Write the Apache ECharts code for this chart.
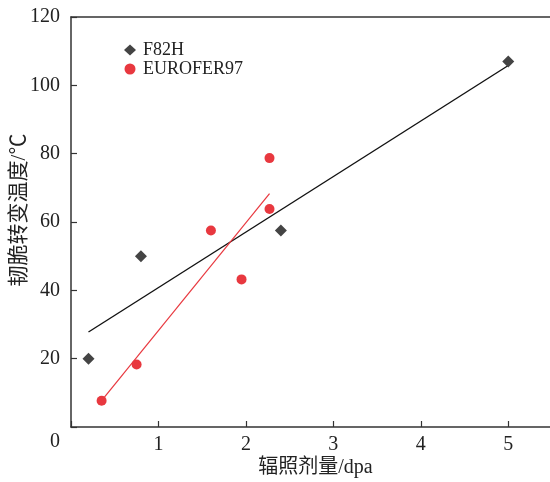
<!DOCTYPE html>
<html>
<head>
<meta charset="utf-8">
<script src="https://cdn.jsdelivr.net/npm/echarts@6/dist/echarts.min.js"></script>
<style>
  html, body { margin: 0; padding: 0; background: #fff; }
  #chart { width: 550px; height: 482px; }
</style>
</head>
<body>
<div id="chart"></div>
<script>
// Irradiation dose (dpa) vs. ductile-brittle transition temperature (°C)
const seriesNames = ['F82H', 'EUROFER97'];

const f82hDose = [0.2, 0.8, 2.4, 5.0];
const f82hDbtt = [20, 50, 57.5, 107];

const euroDose = [0.35, 0.75, 1.6, 1.95, 2.27, 2.27];
const euroDbtt = [7.7, 18.3, 57.5, 43.2, 78.7, 63.8];

// Linear fit lines (end points)
const f82hFitDose = [0.2, 5.0];
const f82hFitDbtt = [27.8, 105.8];
const euroFitDose = [0.35, 2.27];
const euroFitDbtt = [7.7, 68.3];

const xTicks = [1, 2, 3, 4, 5];
const yTicks = [0, 20, 40, 60, 80, 100, 120];

const xName = '辐照剂量/dpa';
const yName = '韧脆转变温度/℃';

const zip = (a, b) => a.map((v, i) => [v, b[i]]);

const FONT = "'Liberation Serif', 'Noto Sans CJK SC', serif";
const AXIS_COLOR = '#333';
const RED = '#e8383f';
const GRAY = '#444';

const chart = echarts.init(document.getElementById('chart'));
chart.setOption({
  animation: false,
  backgroundColor: '#fff',
  textStyle: { fontFamily: FONT },
  grid: { left: 71, right: -2, top: 17, bottom: 55, containLabel: false, outerBoundsMode: 'none' },
  legend: {
    orient: 'vertical',
    left: 124,
    top: 41,
    padding: 0,
    itemGap: 1,
    itemWidth: 12,
    itemHeight: 11,
    data: [
      { name: seriesNames[0], icon: 'diamond' },
      { name: seriesNames[1], icon: 'circle' }
    ],
    textStyle: { fontFamily: FONT, fontSize: 18, color: '#222', padding: [0, 0, 0, 2] }
  },
  xAxis: [{
    type: 'value',
    min: 0,
    max: 5.5,
    interval: 1,
    name: xName,
    nameLocation: 'middle',
    nameGap: 31,
    nameMoveOverlap: false,
    nameTextStyle: { fontFamily: FONT, fontSize: 20, color: '#222', padding: [0, 0, 0, 8] },
    axisLine: { show: true, lineStyle: { color: AXIS_COLOR, width: 1.5 } },
    axisTick: { show: true, inside: true, length: 6, lineStyle: { color: AXIS_COLOR, width: 1.2 } },
    axisLabel: {
      fontFamily: FONT, fontSize: 20, color: '#222', margin: 8,
      formatter: v => (xTicks.indexOf(v) >= 0 ? String(v) : '')
    },
    splitLine: { show: false }
  }, {
    // top frame line
    type: 'value',
    position: 'top',
    min: 0,
    max: 5.5,
    interval: 1,
    axisLine: { show: true, lineStyle: { color: AXIS_COLOR, width: 1.5 } },
    axisTick: { show: false },
    axisLabel: { show: false },
    splitLine: { show: false }
  }],
  yAxis: {
    type: 'value',
    min: 0,
    max: 120,
    interval: 20,
    name: yName,
    nameLocation: 'middle',
    nameGap: 41,
    nameRotate: 90,
    nameMoveOverlap: false,
    nameTextStyle: { fontFamily: FONT, fontSize: 21, color: '#222', padding: [0, 0, 0, 24] },
    axisLine: { show: true, lineStyle: { color: AXIS_COLOR, width: 1.5 } },
    axisTick: { show: true, inside: true, length: 6, lineStyle: { color: AXIS_COLOR, width: 1.2 } },
    axisLabel: {
      fontFamily: FONT, fontSize: 20, color: '#222', margin: 11,
      formatter: v => {
        if (yTicks.indexOf(v) < 0) return '';
        return v === 0 ? '{z|0}' : String(v);
      },
      rich: { z: { fontFamily: FONT, fontSize: 20, color: '#222', padding: [30, 0, 0, 0] } }
    },
    splitLine: { show: false }
  },
  series: [
    {
      name: 'F82H fit',
      type: 'line',
      data: zip(f82hFitDose, f82hFitDbtt),
      showSymbol: false,
      lineStyle: { color: '#111', width: 1.4 },
      z: 1
    },
    {
      name: 'EUROFER97 fit',
      type: 'line',
      data: zip(euroFitDose, euroFitDbtt),
      showSymbol: false,
      lineStyle: { color: RED, width: 1.2 },
      z: 1
    },
    {
      name: seriesNames[0],
      type: 'scatter',
      symbol: 'diamond',
      symbolSize: 12,
      itemStyle: { color: GRAY, opacity: 1 },
      data: zip(f82hDose, f82hDbtt),
      z: 3
    },
    {
      name: seriesNames[1],
      type: 'scatter',
      symbol: 'circle',
      symbolSize: 10,
      itemStyle: { color: RED, opacity: 1 },
      data: zip(euroDose, euroDbtt),
      z: 3
    }
  ]
});
</script>
</body>
</html>
